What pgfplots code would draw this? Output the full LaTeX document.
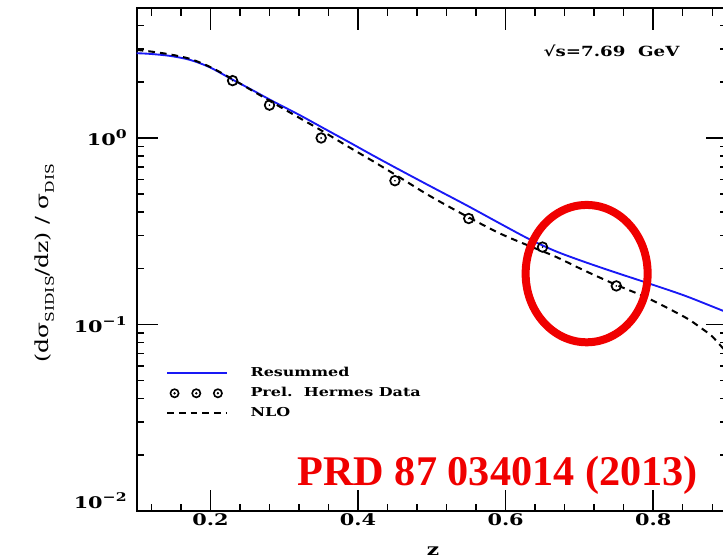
\documentclass[border=0pt]{standalone}
\usepackage{pgfplots}
\pgfplotsset{compat=1.18}
\usepackage{fontspec}
\newfontfamily\plotfont{DejaVu Serif}[FakeStretch=1.3]
\newfontfamily\citefont{Liberation Serif}
\definecolor{resblue}{RGB}{25,25,245}
\definecolor{notered}{RGB}{240,0,0}

% open circle with a dot in its centre
\pgfdeclareplotmark{circdot}{%
  \pgfpathcircle{\pgfpointorigin}{\pgfplotmarksize}\pgfusepathqstroke
  \pgfpathcircle{\pgfpointorigin}{0.7pt}\pgfusepathqfill}

\newcommand{\tenpow}[1]{10\raisebox{0.45em}{\fontsize{9}{10}\selectfont #1}}

\begin{document}
\begin{tikzpicture}
\begin{axis}[
  scale only axis, width=442.7pt, height=377pt,
  at={(0,0)}, anchor=south west,
  xmin=0.1, xmax=0.9,
  ymode=log, ymin=0.01, ymax=4.96,
  xtick={0.2,0.4,0.6,0.8},
  xticklabels={0.2,0.4,0.6,0.8},
  minor xtick={0.12,0.16,0.24,0.28,0.32,0.36,0.44,0.48,0.52,0.56,0.64,0.68,0.72,0.76,0.84,0.88},
  ytick={0.01,0.1,1},
  yticklabels={\raisebox{6pt}[0.7em][0pt]{\tenpow{−2}},\tenpow{−1},\tenpow{0}},
  minor ytick={0.02,0.03,0.04,0.05,0.06,0.07,0.08,0.09,0.2,0.3,0.4,0.5,0.6,0.7,0.8,0.9,2,3,4},
  tick align=inside,
  major tick length=16pt, minor tick length=5.5pt,
  axis line style={line width=1.4pt},
  tick style={line width=1.1pt, black},
  tick label style={font=\plotfont\bfseries\fontsize{12}{13}\selectfont},
  yticklabel style={xshift=-4pt},
  xticklabel style={yshift=1.5pt},
  xlabel={z},
  xlabel style={font=\plotfont\bfseries\fontsize{12.5}{13}\selectfont,
    at={(axis description cs:0.502,-0.0796)}, anchor=center},
  ylabel={(dσ\raisebox{-0.55ex}{\fontsize{9}{10}\selectfont SIDIS}/dz) / σ\raisebox{-0.55ex}{\fontsize{9}{10}\selectfont DIS}},
  ylabel style={font=\plotfont\fontsize{13.5}{15}\selectfont,
    at={(axis description cs:-0.156,0.493)}, anchor=center},
  legend style={at={(axis description cs:0.0496,0.2864)}, anchor=north west,
    draw=none, fill=none, inner sep=0pt, row sep=6pt, column sep=16.7pt,
    font=\plotfont\bfseries\fontsize{9.2}{10}\selectfont,
    nodes={inner sep=0pt, text height=7pt, text depth=2pt}},
  legend cell align=left,
]
% resummed prediction
\addplot[resblue, line width=1.4pt, smooth,
  legend image code/.code={\draw[resblue,line width=1.4pt] (0pt,0pt) -- (45pt,0pt);}]
  coordinates {
  (0.100,2.848) (0.118,2.824) (0.1451,2.755) (0.1722,2.623) (0.1993,2.391)
  (0.2291,2.063) (0.2535,1.835) (0.2847,1.573) (0.3213,1.324) (0.3484,1.156)
  (0.3890,0.944) (0.4202,0.806) (0.4568,0.673) (0.4975,0.5525) (0.5476,0.4345)
  (0.5923,0.348) (0.6302,0.2893) (0.6668,0.248) (0.7048,0.218) (0.7481,0.1905)
  (0.7915,0.1673) (0.8430,0.1426) (0.8944,0.1185) (0.900,0.1163)};
\addlegendentry{Resummed}
% preliminary HERMES points
\addplot[only marks, mark=circdot, mark size=3.6pt, black,
  mark options={line width=1.3pt},
  legend image code/.code={\foreach \p in {5.5,21.8,38}{%
     \draw[black,line width=1.2pt] (\p pt,0pt) circle (3.1pt);
     \fill[black] (\p pt,0pt) circle (0.7pt);}}]
  coordinates {
  (0.23,2.03) (0.28,1.50) (0.35,1.00) (0.45,0.59) (0.55,0.37) (0.65,0.26) (0.75,0.161)};
\addlegendentry{Prel.\ \ Hermes Data}
% fixed-order NLO
\addplot[black, line width=1.5pt, dash pattern=on 5pt off 3.8pt, smooth,
  legend image code/.code={\draw[black,line width=1.5pt,dash pattern=on 5pt off 3.8pt] (0pt,0pt) -- (45pt,0pt);}]
  coordinates {
  (0.100,2.966) (0.118,2.912) (0.1451,2.806) (0.1722,2.656) (0.1993,2.406)
  (0.2291,2.076) (0.2535,1.824) (0.2847,1.545) (0.3213,1.276) (0.3484,1.108)
  (0.3890,0.887) (0.4202,0.751) (0.4568,0.6134) (0.4975,0.4883) (0.5476,0.3795)
  (0.5923,0.3077) (0.6302,0.2655) (0.6668,0.2318) (0.7048,0.1963) (0.7481,0.1642)
  (0.7915,0.1391) (0.8430,0.1094) (0.8633,0.0967) (0.8795,0.0866) (0.8944,0.0747)
  (0.900,0.0715)};
\addlegendentry{NLO}
\node[font=\plotfont\bfseries\fontsize{10.5}{11}\selectfont, anchor=center]
  at (axis cs:0.7436,2.93) {√s=7.69\ \ GeV};
\draw[notered, line width=6pt] (axis cs:0.7098,0.1874) ellipse [x radius=45.75pt, y radius=51.5pt];
\node[notered, font=\citefont\bfseries\fontsize{31.7}{34}\selectfont, anchor=base]
  at (axis cs:0.5893,0.01371) {PRD 87 034014 (2013)};
\end{axis}
\pgfresetboundingbox
\path[use as bounding box] (-102.5pt,-36pt) rectangle (439.7pt,383.2pt);
\end{tikzpicture}
\end{document}
